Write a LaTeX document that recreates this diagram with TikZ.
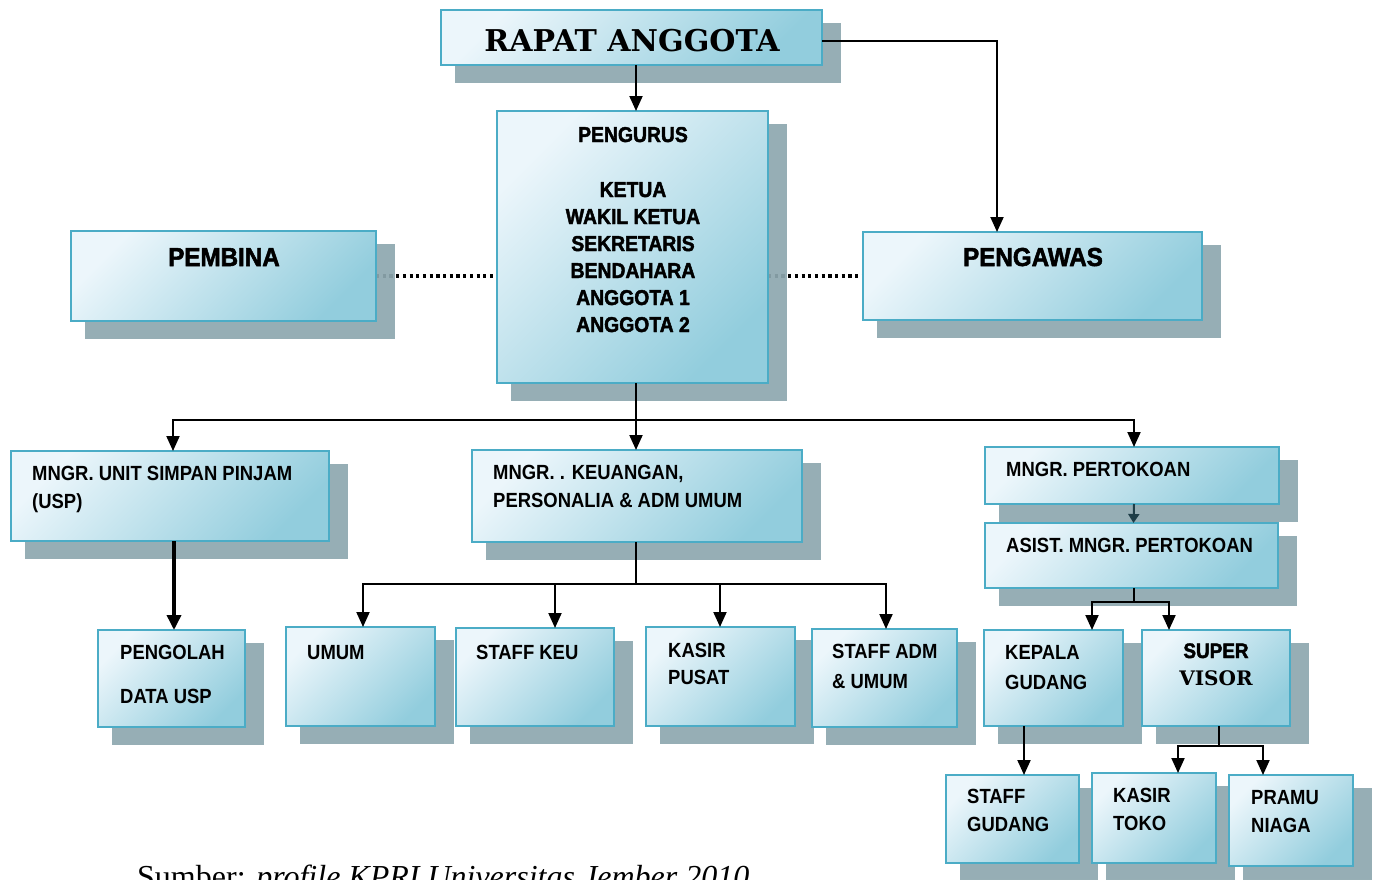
\documentclass[tikz,border=0pt]{standalone}
\usepackage{fontspec}
\setmainfont{Liberation Sans}
\newfontfamily\labf[FakeStretch=0.9]{Liberation Sans Bold}
\newfontfamily\boldf[FakeStretch=0.9,FakeBold=2]{Liberation Sans Bold}
\newfontfamily\bigf[FakeStretch=0.93,FakeBold=2]{Liberation Sans Bold}
\newfontfamily\serifb{DejaVu Serif}
\newfontfamily\timesf{Liberation Serif}
\usetikzlibrary{arrows.meta,calc}
\pgfdeclarelayer{bg}
\pgfdeclarelayer{sh}
\pgfsetlayers{bg,sh,main}
\definecolor{bordc}{RGB}{75,172,198}
\definecolor{topc}{RGB}{236,246,251}
\definecolor{botc}{RGB}{146,205,221}
\definecolor{shadc}{RGB}{142,168,175}
\definecolor{darkarr}{RGB}{30,62,72}
\tikzset{
 orgbx/.style={draw=bordc, line width=2.5pt, top color=topc, bottom color=botc, shading angle=45, inner sep=0pt, outer sep=0pt},
 conn/.style={line width=2pt, black},
 arr/.style={conn, -{Triangle[length=15pt,width=13pt]}},
 lab/.style={anchor=base west, inner sep=0pt, font=\labf\fontsize{20.5}{24}\selectfont},
 blab/.style={anchor=base, inner sep=0pt, font=\boldf\fontsize{21.5}{24}\selectfont},
 dots/.style={line width=3.2pt, dash pattern=on 3.2pt off 3.5pt}
}
\newcommand\orgbox[5]{%
 \begin{pgfonlayer}{sh}\fill[shadc, opacity=0.92] ({#2+14},{#3+13}) rectangle ({#4+19},{#5+18});\end{pgfonlayer}
 \node[orgbx, minimum width={#4-#2}, minimum height={#5-#3}, anchor=north west] (#1) at (#2,#3) {};}
\begin{document}
\begin{tikzpicture}[x=1pt,y=-1pt]
\useasboundingbox (0,0) rectangle (1376,879);
\begin{pgfonlayer}{bg}
\fill[white] (0,0) rectangle (1376,879);
\end{pgfonlayer}
% boxes
\orgbox{rapat}{441}{10}{822}{65}
\orgbox{pengurus}{497}{111}{768}{383}
\orgbox{pembina}{71}{231}{376}{321}
\orgbox{pengawas}{863}{232}{1202}{320}
\orgbox{usp}{11}{451}{329}{541}
\orgbox{keu}{472}{450}{802}{542}
\orgbox{pert}{985}{447}{1279}{504}
\orgbox{asist}{985}{523}{1278}{588}
\orgbox{pengolah}{98}{630}{245}{727}
\orgbox{umum}{286}{627}{435}{726}
\orgbox{staffkeu}{456}{628}{614}{726}
\orgbox{kasirp}{646}{627}{795}{726}
\orgbox{staffadm}{812}{629}{957}{727}
\orgbox{kepala}{984}{630}{1123}{726}
\orgbox{super}{1142}{630}{1290}{726}
\orgbox{sgud}{946}{775}{1079}{863}
\orgbox{ktoko}{1092}{773}{1216}{863}
\orgbox{pramu}{1229}{775}{1353}{866}
% texts
\node[anchor=base, inner sep=0pt, font=\serifb\bfseries\fontsize{30}{34}\selectfont] (t-rapat) at (632,51) {RAPAT ANGGOTA};
\node[blab] (t-p0) at (633,142) {PENGURUS};
\node[blab] (t-p1) at (633,197) {KETUA};
\node[blab] (t-p2) at (633,224) {WAKIL KETUA};
\node[blab] (t-p3) at (633,251) {SEKRETARIS};
\node[blab] (t-p4) at (633,278) {BENDAHARA};
\node[blab] (t-p5) at (633,305) {ANGGOTA 1};
\node[blab] (t-p6) at (633,332) {ANGGOTA 2};
\node[blab, font=\bigf\fontsize{26}{30}\selectfont] (t-pembina) at (224,266) {PEMBINA};
\node[blab, font=\bigf\fontsize{26}{30}\selectfont] (t-pengawas) at (1033,266) {PENGAWAS};
\node[lab] (t-usp1) at (32,480) {MNGR. UNIT SIMPAN PINJAM};
\node[lab] (t-usp2) at (32,508) {(USP)};
\node[lab] (t-keu1) at (493,479) {MNGR. . KEUANGAN,};
\node[lab] (t-keu2) at (493,507) {PERSONALIA \& ADM UMUM};
\node[lab] (t-pert) at (1006,476) {MNGR. PERTOKOAN};
\node[lab] (t-asist) at (1006,552) {ASIST. MNGR. PERTOKOAN};
\node[lab] (t-peng1) at (120,659) {PENGOLAH};
\node[lab] (t-peng2) at (120,703) {DATA USP};
\node[lab] (t-umum) at (307,659) {UMUM};
\node[lab] (t-skeu) at (476,659) {STAFF KEU};
\node[lab] (t-kp1) at (668,657) {KASIR};
\node[lab] (t-kp2) at (668,684) {PUSAT};
\node[lab] (t-sa1) at (832,658) {STAFF ADM};
\node[lab] (t-sa2) at (832,688) {\& UMUM};
\node[lab] (t-kg1) at (1005,659) {KEPALA};
\node[lab] (t-kg2) at (1005,689) {GUDANG};
\node[blab, font=\boldf\fontsize{21}{24}\selectfont] (t-sv1) at (1216,658) {SUPER};
\node[anchor=base, inner sep=0pt, font=\serifb\bfseries\fontsize{20}{24}\selectfont] (t-sv2) at (1216,685) {VISOR};
\node[lab] (t-sg1) at (967,803) {STAFF};
\node[lab] (t-sg2) at (967,831) {GUDANG};
\node[lab] (t-kt1) at (1113,802) {KASIR};
\node[lab] (t-kt2) at (1113,830) {TOKO};
\node[lab] (t-pn1) at (1251,804) {PRAMU};
\node[lab] (t-pn2) at (1251,832) {NIAGA};
\node[anchor=base west, inner sep=0pt, font=\timesf\fontsize{32}{36}\selectfont] (src) at (137,887) {Sumber: \textit{profile KPRI Universitas Jember 2010}};
% dotted links
\begin{pgfonlayer}{bg}
\draw[dots] (pembina.east) -- (pembina.east -| pengurus.west);
\draw[dots] (pengurus.east |- pengawas.west) -- (pengawas.west);
\end{pgfonlayer}
% connectors
\coordinate (pgin) at ($(pengurus.north)+(3.5,0)$);
\draw[arr] (rapat.south -| pgin) -- (pgin);
\coordinate (pwin) at ($(pengawas.north)+(-35.5,0)$);
\draw[arr] ($(rapat.east)+(0,3.5)$) -| (pwin);
\coordinate (b1) at ($(pengurus.south)+(3.5,37)$);
\draw[conn] ($(pengurus.south)+(3.5,0)$) -- (b1);
\draw[arr] (b1) -| ($(usp.north)+(3,0)$);
\draw[arr] (b1) -| ($(pert.north)+(2,0)$);
\draw[arr] (b1) -- (b1 |- keu.north);
\draw[darkarr, line width=2pt, -{Triangle[length=9pt,width=11pt]}] ($(pert.south)+(2,0)$) -- ($(asist.north)+(2,0)$);
\coordinate (uspx) at ($(usp.south)+(4,0)$);
\draw[line width=3.5pt, -{Triangle[length=15pt,width=14pt]}] (uspx) -- (uspx |- pengolah.north);
\coordinate (b2) at ($(keu.south)+(-1,42)$);
\draw[conn] (keu.south -| b2) -- (b2);
\draw[arr] (b2) -| ($(umum.north)+(2.5,0)$);
\draw[arr] (b2) -| ($(staffkeu.north)+(20,0)$);
\draw[arr] (b2) -| ($(kasirp.north)+(-0.5,0)$);
\draw[arr] (b2) -| ($(staffadm.north)+(1.5,0)$);
\coordinate (b3) at ($(asist.south)+(2.5,14)$);
\draw[conn] (asist.south -| b3) -- (b3);
\draw[arr] (b3) -| ($(kepala.north)+(38.5,0)$);
\draw[arr] (b3) -| ($(super.north)+(-47,0)$);
\coordinate (kgx) at ($(sgud.north)+(11.5,0)$);
\draw[arr] (kepala.south -| kgx) -- (kgx);
\coordinate (b4) at ($(super.south)+(3,20)$);
\draw[conn] (super.south -| b4) -- (b4);
\draw[arr] (b4) -| ($(ktoko.north)+(24,0)$);
\draw[arr] (b4) -| ($(pramu.north)+(-28,0)$);
\end{tikzpicture}
\end{document}
